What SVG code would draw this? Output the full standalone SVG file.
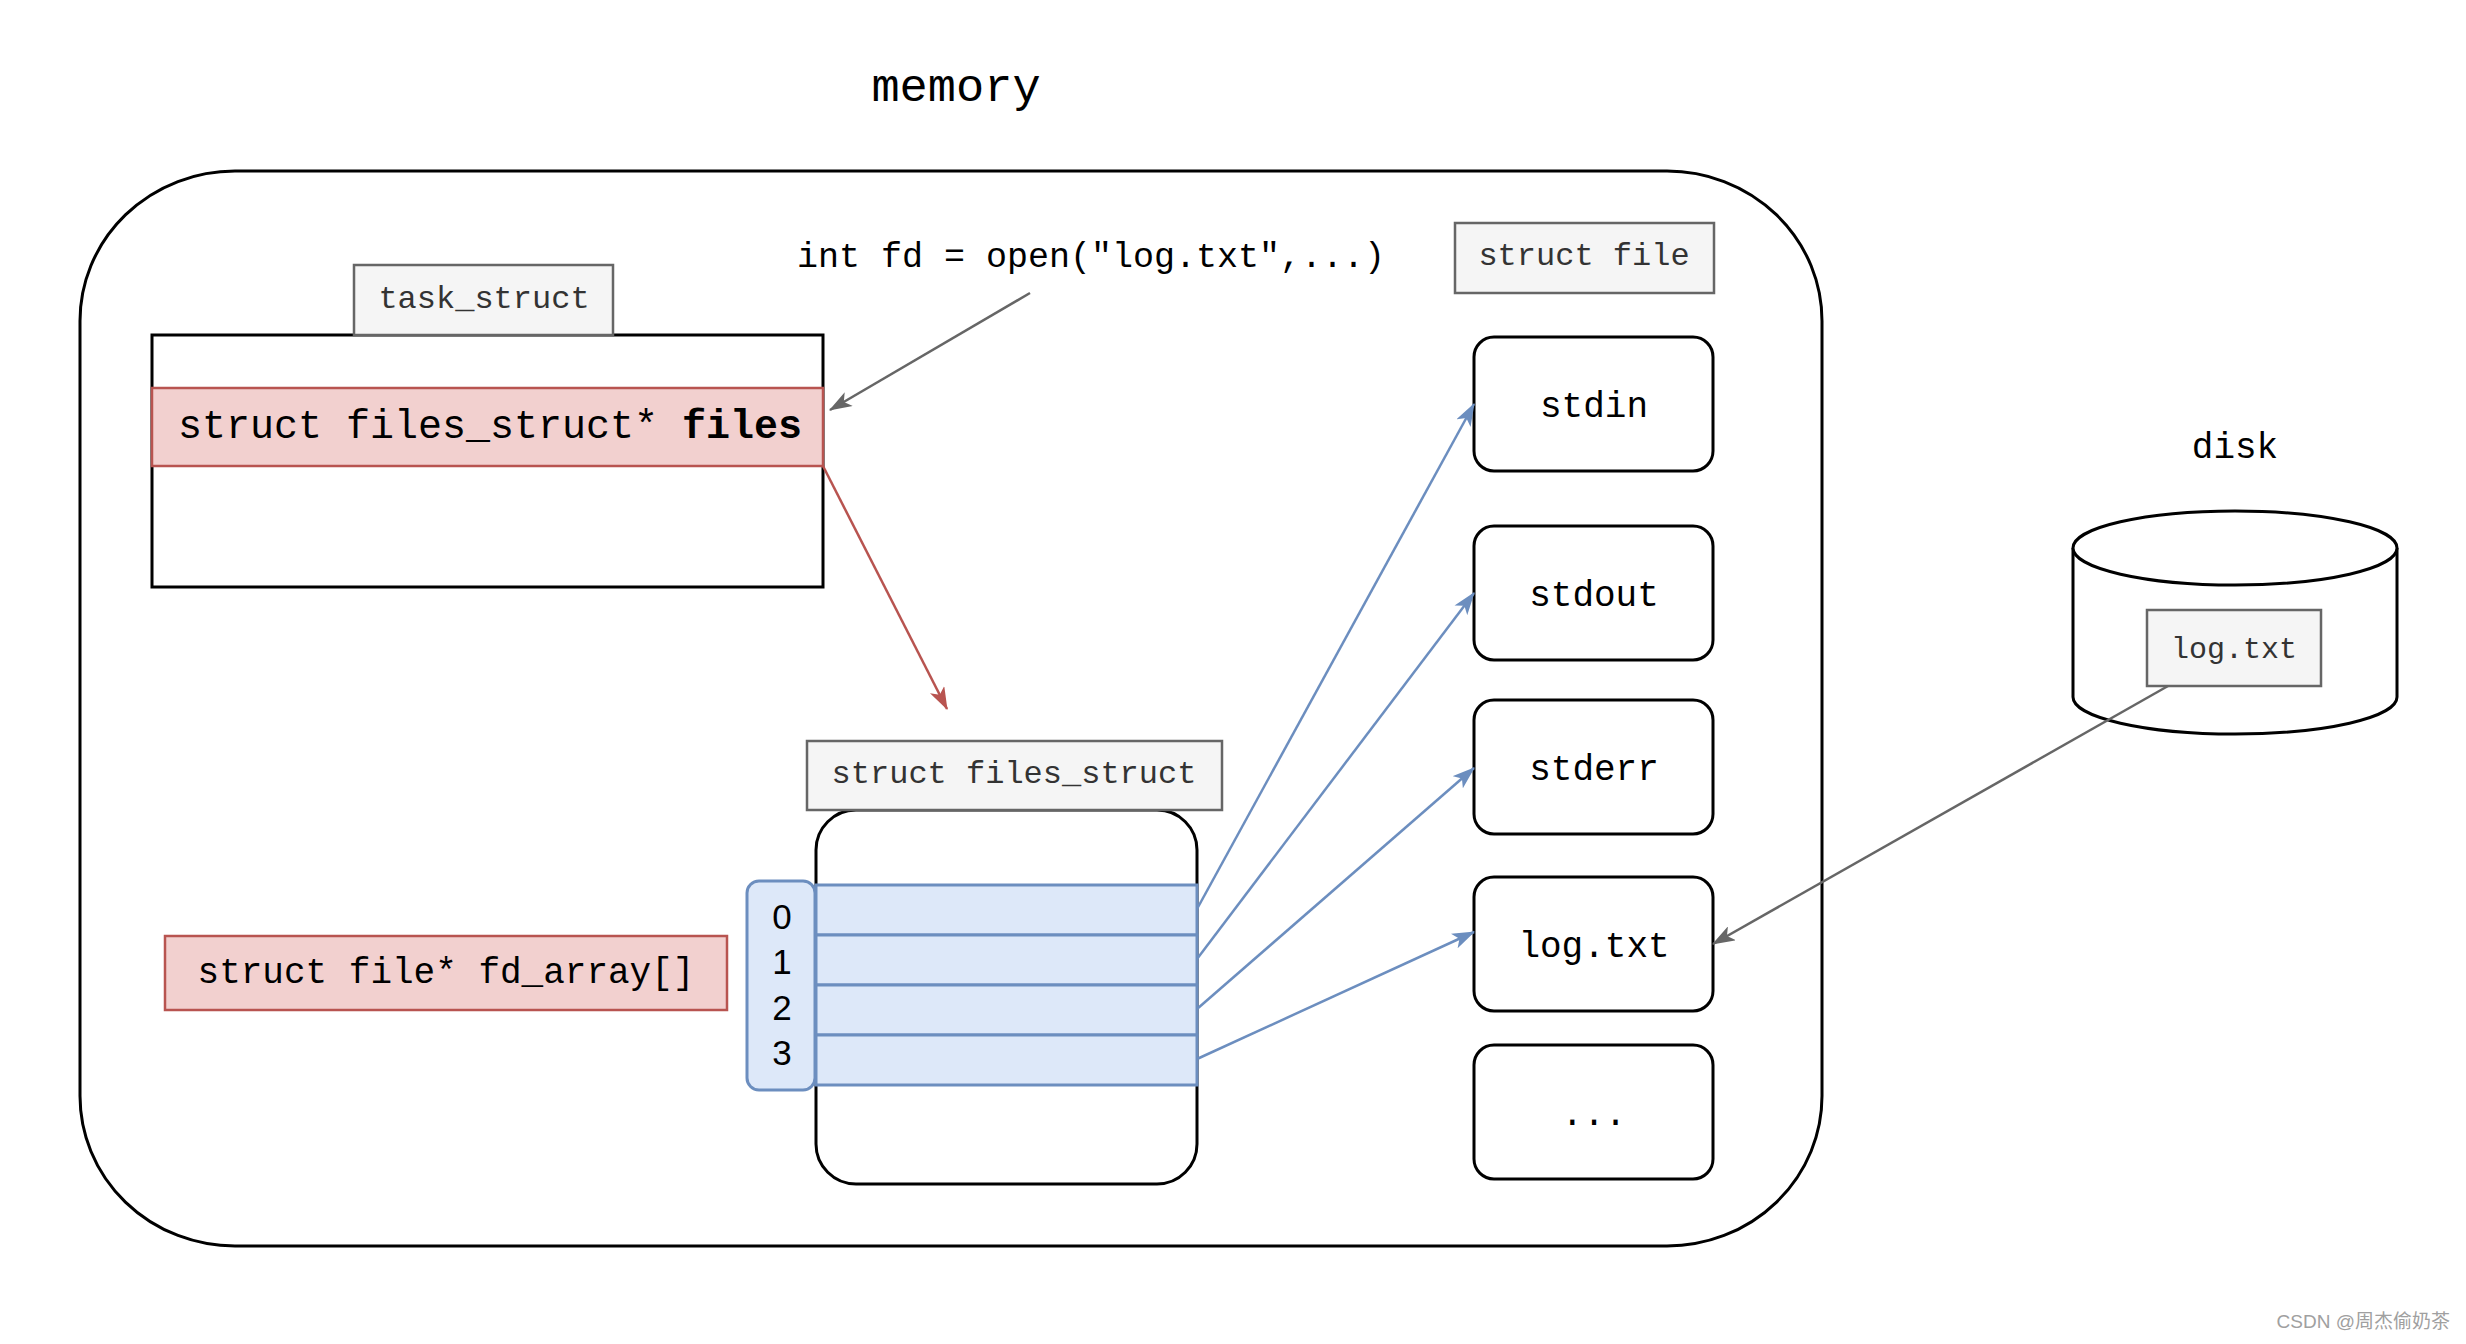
<svg xmlns="http://www.w3.org/2000/svg" width="2466" height="1344" viewBox="0 0 2466 1344">
<style>
.mono{font-family:"Liberation Mono","Courier New",monospace;fill:#000}
.lbl{fill:#f5f5f5;stroke:#666;stroke-width:2.5}
.lbltxt{font-family:"Liberation Mono","Courier New",monospace;fill:#333;font-size:32px;text-anchor:middle}
.box{fill:#fff;stroke:#000;stroke-width:3}
.pink{fill:#f2d0cf;stroke:#b85450;stroke-width:2.5}
.blue{fill:#dde8f9;stroke:#6c8ebf;stroke-width:3}
.c{text-anchor:middle}
</style>
<defs>
<marker id="ag" viewBox="0 0 20 14" refX="19" refY="7" markerWidth="23" markerHeight="16" markerUnits="userSpaceOnUse" orient="auto"><path d="M0,0 L20,7 L0,14 L5,7 Z" fill="#666"/></marker>
<marker id="ar" viewBox="0 0 20 14" refX="19" refY="7" markerWidth="23" markerHeight="16" markerUnits="userSpaceOnUse" orient="auto"><path d="M0,0 L20,7 L0,14 L5,7 Z" fill="#b85450"/></marker>
<marker id="ab" viewBox="0 0 20 14" refX="19" refY="7" markerWidth="23" markerHeight="16" markerUnits="userSpaceOnUse" orient="auto"><path d="M0,0 L20,7 L0,14 L5,7 Z" fill="#6c8ebf"/></marker>
</defs>
<rect width="2466" height="1344" fill="#fff"/>

<g id="memory">
<rect x="80" y="171" width="1742" height="1075" rx="155" ry="150" fill="none" stroke="#000" stroke-width="3"/>
<text class="mono c" x="956" y="101" font-size="47">memory</text>
</g>

<g id="task_struct">
<rect class="box" x="152" y="335" width="671" height="252"/>
<rect class="lbl" x="354" y="265" width="259" height="70"/>
<text class="lbltxt" x="484" y="308">task_struct</text>
<rect class="pink" x="152" y="388" width="671" height="78"/>
<text class="mono" x="178" y="438" font-size="40">struct files_struct* <tspan font-weight="bold">files</tspan></text>
</g>

<g id="open_call">
<text class="mono c" x="1091" y="267" font-size="35">int fd = open("log.txt",...)</text>
</g>

<g id="struct_file_label">
<rect class="lbl" x="1455" y="223" width="259" height="70"/>
<text class="lbltxt" x="1584" y="265">struct file</text>
</g>

<g id="stdin"><rect class="box" x="1474" y="337" width="239" height="134" rx="20"/><text class="mono c" x="1594" y="417" font-size="36">stdin</text></g>
<g id="stdout"><rect class="box" x="1474" y="526" width="239" height="134" rx="20"/><text class="mono c" x="1594" y="606" font-size="36">stdout</text></g>
<g id="stderr"><rect class="box" x="1474" y="700" width="239" height="134" rx="20"/><text class="mono c" x="1594" y="780" font-size="36">stderr</text></g>
<g id="logtxt"><rect class="box" x="1474" y="877" width="239" height="134" rx="20"/><text class="mono c" x="1594" y="957" font-size="36">log.txt</text></g>
<g id="more"><rect class="box" x="1474" y="1045" width="239" height="134" rx="20"/><text class="mono c" x="1594" y="1125" font-size="36">...</text></g>

<g id="files_struct">
<rect class="box" x="816" y="810" width="381" height="374" rx="40"/>
<rect class="lbl" x="807" y="741" width="415" height="69"/>
<text class="lbltxt" x="1014" y="783">struct files_struct</text>
<rect class="blue" x="816" y="885" width="381" height="50"/>
<rect class="blue" x="816" y="935" width="381" height="50"/>
<rect class="blue" x="816" y="985" width="381" height="50"/>
<rect class="blue" x="816" y="1035" width="381" height="50"/>
</g>

<g id="index">
<rect class="blue" x="747" y="881" width="68" height="209" rx="12"/>
<g font-family="'Liberation Sans',Arial,sans-serif" font-size="35" text-anchor="middle" fill="#000">
<text x="782" y="929">0</text>
<text x="782" y="974">1</text>
<text x="782" y="1020">2</text>
<text x="782" y="1065">3</text>
</g>
</g>

<g id="fd_array">
<rect class="pink" x="165" y="936" width="562" height="74"/>
<text class="mono c" x="446" y="983" font-size="36">struct file* fd_array[]</text>
</g>

<g id="disk">
<text class="mono c" x="2235" y="458" font-size="36">disk</text>
<path d="M2073,548 L2073,697 A162,37 0 0 0 2397,697 L2397,548" fill="#fff" stroke="#000" stroke-width="3"/>
<ellipse cx="2235" cy="548" rx="162" ry="37" fill="#fff" stroke="#000" stroke-width="3"/>
<rect class="lbl" x="2147" y="610" width="174" height="76"/>
<text class="mono c" x="2234" y="658" font-size="30" style="fill:#333">log.txt</text>
</g>

<g id="connectors" fill="none" stroke-width="2.5">
<line x1="1030" y1="293" x2="830" y2="410" stroke="#666" marker-end="url(#ag)"/>
<line x1="823" y1="466" x2="947" y2="709" stroke="#b85450" marker-end="url(#ar)"/>
<line x1="1197" y1="909" x2="1474" y2="404" stroke="#6c8ebf" marker-end="url(#ab)"/>
<line x1="1197" y1="959" x2="1474" y2="593" stroke="#6c8ebf" marker-end="url(#ab)"/>
<line x1="1197" y1="1009" x2="1474" y2="768" stroke="#6c8ebf" marker-end="url(#ab)"/>
<line x1="1197" y1="1059" x2="1474" y2="932" stroke="#6c8ebf" marker-end="url(#ab)"/>
<line x1="2168" y1="686" x2="1713" y2="944" stroke="#666" marker-end="url(#ag)"/>
</g>

<text x="2450" y="1328" text-anchor="end" font-family="'Liberation Sans','Noto Sans CJK SC',sans-serif" font-size="19" fill="#a0a0a0">CSDN @周杰偷奶茶</text>
</svg>
